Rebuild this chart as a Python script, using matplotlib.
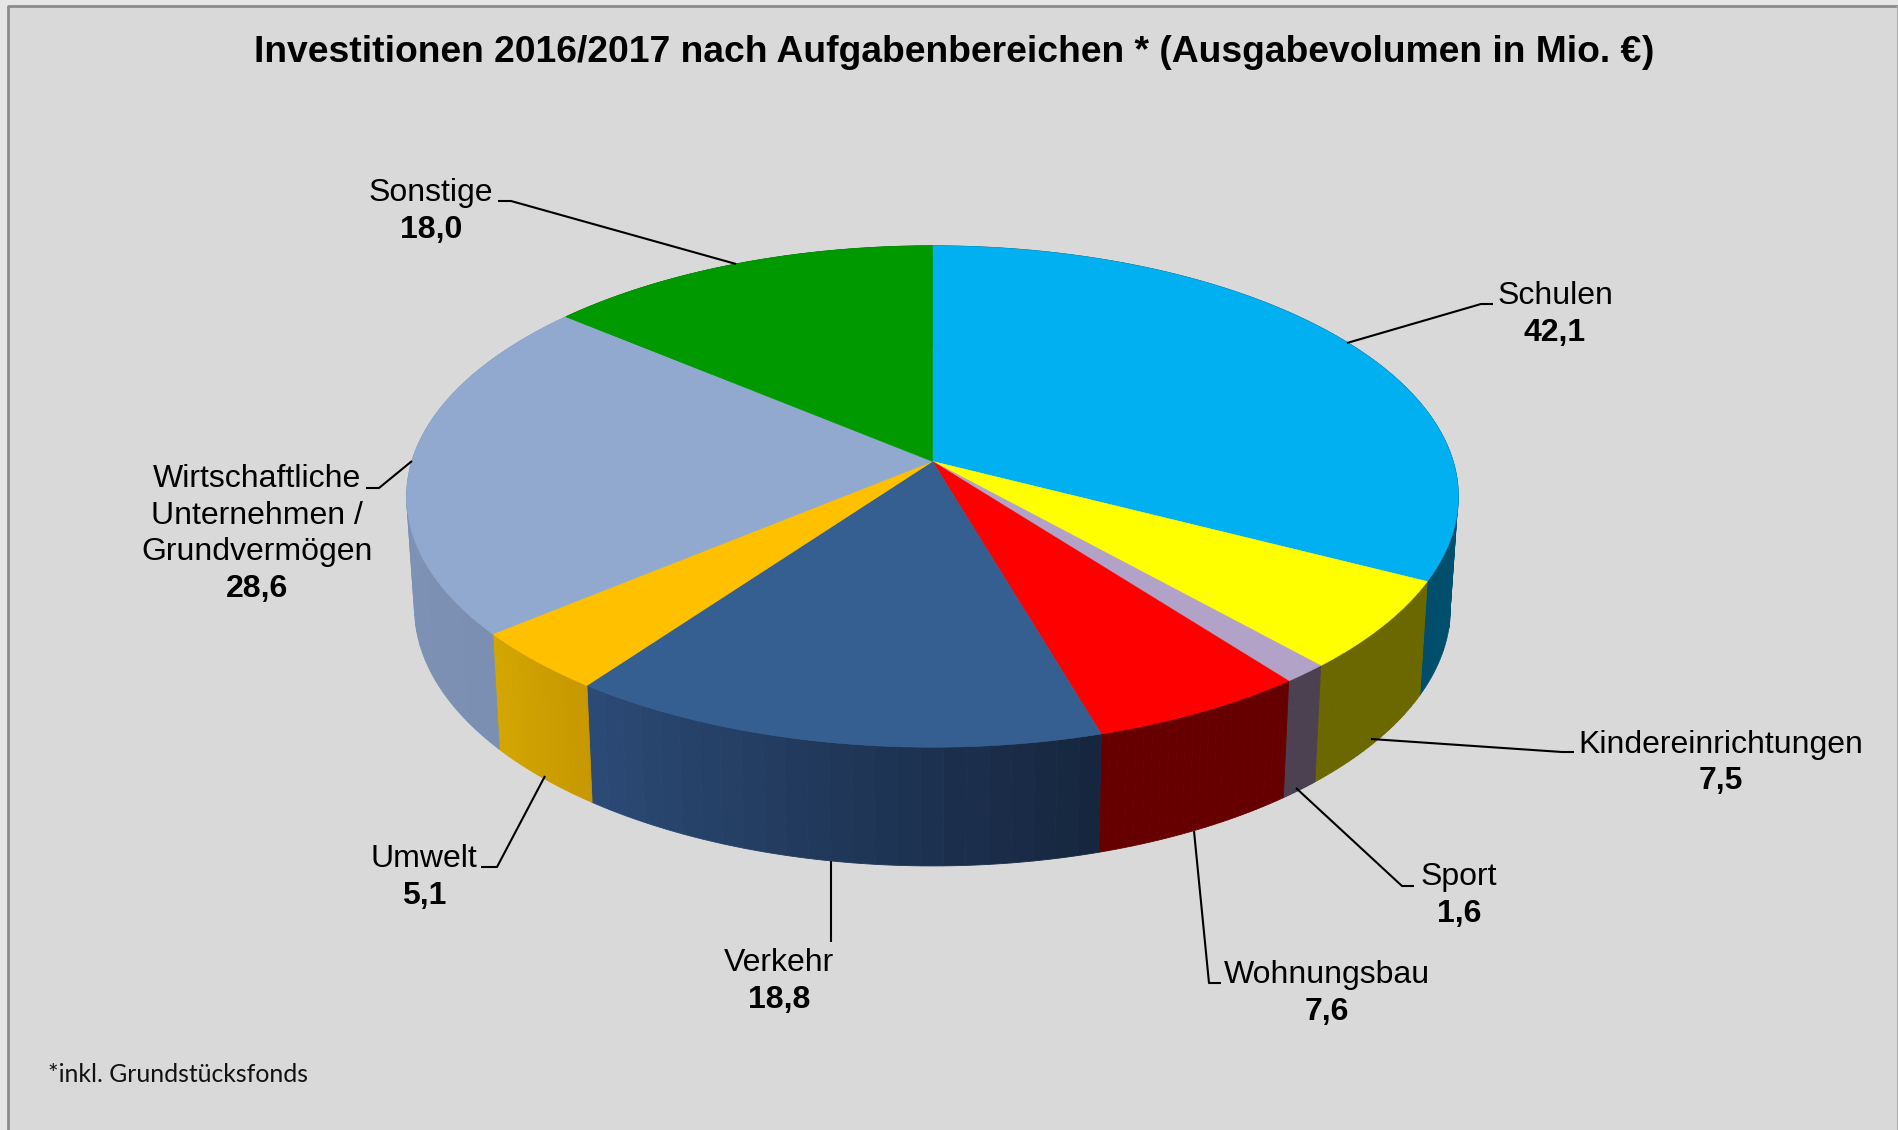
import numpy as np
import matplotlib
matplotlib.use("Agg")
import matplotlib.pyplot as plt
from matplotlib.colors import to_rgb

names = ["Schulen", "Kindereinrichtungen", "Sport", "Wohnungsbau", "Verkehr", "Umwelt",
         "Wirtschaftliche\nUnternehmen /\nGrundvermögen", "Sonstige"]
values = [42.1, 7.5, 1.6, 7.6, 18.8, 5.1, 28.6, 18.0]

top_colors = ["#00b0f0", "#ffff00", "#b3a2c7", "#ff0000", "#365f91", "#ffc000", "#92a9cf", "#009900"]
# walls run clockwise, so these go from the right end of a slice to its left end
wall_from = ["#005a7a", "#6b6800", "#4b4050", "#660000", "#16263f", "#c79800", "#7b8fb3", "#006600"]
wall_to = ["#004e6b", "#6b6800", "#4b4050", "#660000", "#2b4a75", "#d4a600", "#8296ba", "#006600"]

label_pos = [(1555, 296.5), (1721, 744.5), (1459, 877.5), (1327, 975), (779, 963), (424, 859), (257, 479), (431, 193)]
leaders = [
    [(1347, 343), (1481, 304), (1493, 304)],
    [(1371, 739), (1562, 752), (1574, 752)],
    [(1296, 788), (1402, 886), (1414, 886)],
    [(1194, 831), (1209, 983), (1221, 983)],
    [(831, 861), (831, 942)],
    [(545, 776), (497, 867), (481, 867)],
    [(412, 461), (379, 488), (366, 488)],
    [(736, 264), (511, 201), (498, 201)],
]

# pie geometry in pixels
cx, cy = 932.5, 461.4
rx, ry, k = 520.7, 245.8, 0.14
wall_sx, wall_a, wall_b = 0.985, 96.3, 1.03


def top_xy(theta):
    # theta clockwise from 12 o'clock, perspective on the unit circle
    x, y = np.sin(theta), np.cos(theta)
    w = 1 + k * y
    return cx + rx * x / w, cy - ry * y / w


def wall_xy(theta):
    x, y = top_xy(theta)
    return cx + wall_sx * (x - cx), wall_a + wall_b * y


plt.rcParams["font.family"] = ["Liberation Sans", "DejaVu Sans"]
fig = plt.figure(figsize=(18.99, 11.30), dpi=100, facecolor="#e6e6e6")
ax = fig.add_axes([0, 0, 1, 1])
ax.set_xlim(0, 1899)
ax.set_ylim(1130, 0)
ax.axis("off")

ax.fill([8, 1897, 1897, 8], [6, 6, 1130, 1130], color="#d9d9d9", zorder=0)
ax.plot([8, 8, 1897], [1130, 6, 6], color="#8c8c8c", lw=2, zorder=1)
ax.plot([1897, 1897], [6, 1130], color="#b0b0b0", lw=0.8, zorder=1)

edges = np.cumsum([0] + values) / sum(values) * 2 * np.pi

# side walls first, the top covers whatever is at the back
for i in range(len(values)):
    steps = np.linspace(edges[i], edges[i + 1], 25)
    c0, c1 = np.array(to_rgb(wall_from[i])), np.array(to_rgb(wall_to[i]))
    for j in range(24):
        th = np.linspace(steps[j], steps[j + 1], 6)
        tx, ty = top_xy(th)
        bx, by = wall_xy(th)
        col = c0 + (c1 - c0) * j / 23
        ax.fill(np.r_[tx, bx[::-1]], np.r_[ty, by[::-1]], color=col, lw=0.6, zorder=2)

for i in range(len(values)):
    th = np.linspace(edges[i], edges[i + 1], 150)
    tx, ty = top_xy(th)
    ax.fill(np.r_[cx, tx], np.r_[cy, ty], color=top_colors[i], lw=0.4, zorder=3)

for pts in leaders:
    ax.plot(*zip(*pts), color="black", lw=1.5, zorder=4, solid_capstyle="butt")

for name, val, (lx, ly) in zip(names, values, label_pos):
    lines = name.split("\n")
    for n, line in enumerate(lines):
        ax.text(lx, ly + n * 36.6, line, fontsize=23, ha="center", va="center", color="black")
    ax.text(lx, ly + len(lines) * 36.6, f"{val:.1f}".replace(".", ","), fontsize=23, fontweight="bold",
            ha="center", va="center", color="black")

ax.text(254, 62, "Investitionen 2016/2017 nach Aufgabenbereichen * (Ausgabevolumen in Mio. €",
        fontsize=26.85, fontweight="bold", ha="left", va="baseline")
ax.text(1654, 62, ")", fontsize=26.85, fontweight="bold", ha="right", va="baseline")
ax.text(48, 1082, "*inkl. Grundstücksfonds", fontsize=17.8, family="Lato", ha="left", va="baseline", color="#111111")

fig.savefig("out.png", dpi=100, facecolor=fig.get_facecolor())
